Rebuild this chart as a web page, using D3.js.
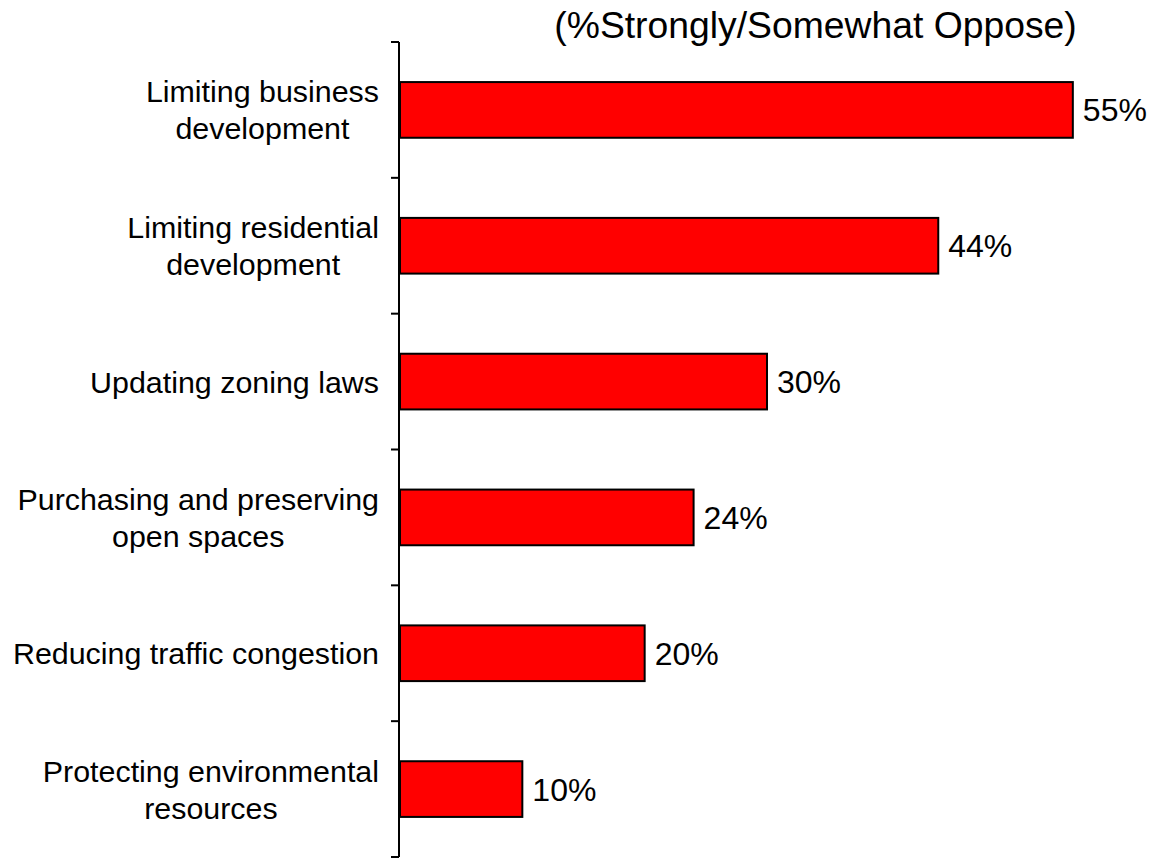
<!DOCTYPE html>
<html>
<head>
<meta charset="utf-8">
<script src="https://cdn.jsdelivr.net/npm/d3@7"></script>
<style>
  html, body { margin: 0; padding: 0; background: #fff; }
  svg { display: block; }
  text { font-family: "Liberation Sans", Arial, sans-serif; fill: #000; }
</style>
</head>
<body>
<svg id="chart" width="1154" height="860"></svg>
<script>
const categories = [
  ["Limiting business", "development"],
  ["Limiting residential", "development"],
  ["Updating zoning laws"],
  ["Purchasing and preserving", "open spaces"],
  ["Reducing traffic congestion"],
  ["Protecting environmental", "resources"]
];
const values = [55, 44, 30, 24, 20, 10];
const valueLabels = ["55%", "44%", "30%", "24%", "20%", "10%"];
const chartTitle = "(%Strongly/Somewhat Oppose)";

(function () {
const svg = d3.select("#chart");
const mLeft = 400, mRight = 1134, mTop = 42, mBottom = 857;

const x = d3.scaleLinear().domain([0, 60]).range([mLeft, mRight]);
const y = d3.scaleBand().domain(d3.range(categories.length)).range([mTop, mBottom]).paddingInner(0.59).paddingOuter(0.295);

// title
svg.append("text")
  .attr("x", 815.5).attr("y", 38)
  .attr("text-anchor", "middle")
  .style("font-size", "37.3px")
  .text(chartTitle);

// bars
svg.selectAll("rect.bar").data(values).join("rect")
  .attr("class", "bar")
  .attr("x", x(0))
  .attr("y", (d, i) => y(i))
  .attr("width", d => x(d) - x(0))
  .attr("height", y.bandwidth())
  .attr("fill", "#ff0000")
  .attr("stroke", "#000")
  .attr("stroke-width", 2);

// value labels
svg.selectAll("text.val").data(values).join("text")
  .attr("class", "val")
  .attr("x", d => x(d) + 10)
  .attr("y", (d, i) => y(i) + y.bandwidth() / 2 + 11.5)
  .style("font-size", "32px")
  .text((d, i) => valueLabels[i]);

// axis line & ticks
const tickY = d3.range(categories.length + 1).map(i => mTop + i * (mBottom - mTop) / categories.length);
svg.append("line")
  .attr("x1", mLeft - 1).attr("x2", mLeft - 1)
  .attr("y1", mTop).attr("y2", mBottom)
  .attr("stroke", "#000").attr("stroke-width", 2);
svg.selectAll("line.tick").data(tickY).join("line")
  .attr("class", "tick")
  .attr("x1", mLeft - 9).attr("x2", mLeft - 1)
  .attr("y1", d => d).attr("y2", d => d)
  .attr("stroke", "#000").attr("stroke-width", 2);

// category labels (block right-aligned, lines centered)
const lineH = 37;
const rightEdge = 379;
categories.forEach((lines, i) => {
  const cy = y(i) + y.bandwidth() / 2;
  const t = svg.append("text")
    .attr("text-anchor", "middle")
    .style("font-size", "30.4px");
  const n = lines.length;
  const spans = lines.map((ln, j) => t.append("tspan")
      .attr("y", cy + 11 + (j - (n - 1) / 2) * lineH)
      .text(ln));
  const maxW = d3.max(spans, s => s.node().getComputedTextLength());
  spans.forEach(s => s.attr("x", rightEdge - maxW / 2));
});
})();
</script>
</body>
</html>
